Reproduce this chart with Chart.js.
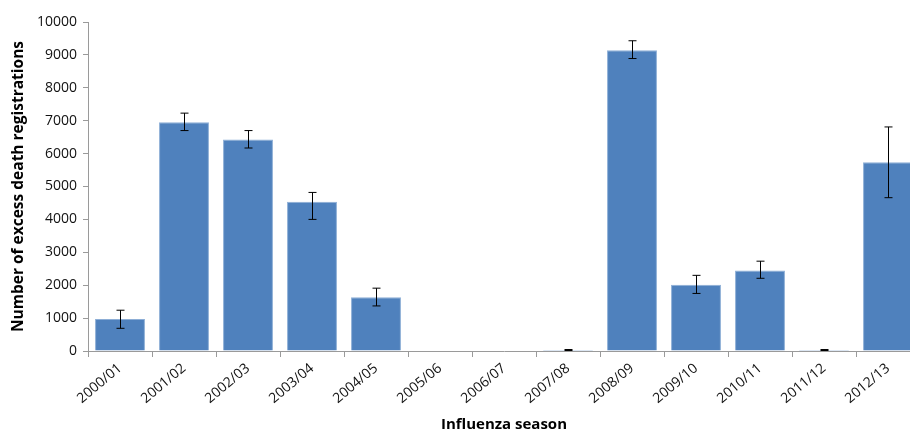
<!DOCTYPE html>
<html>
<head>
<meta charset="utf-8">
<script src="https://cdn.jsdelivr.net/npm/chart.js@4"></script>
<style>
  html, body { margin: 0; padding: 0; background: #fff; overflow: hidden; }
  #wrap { width: 920px; height: 434px; }
</style>
</head>
<body>
<div id="wrap"><canvas id="fluChart" width="920" height="434"></canvas></div>
<script>
const seasons = ["2000/01", "2001/02", "2002/03", "2003/04", "2004/05", "2005/06", "2006/07",
  "2007/08", "2008/09", "2009/10", "2010/11", "2011/12", "2012/13"];
const excessDeaths = [970, 6950, 6430, 4540, 1630, 0, 0, 30, 9140, 2010, 2450, 30, 5740];
const ciLower = [690, 6700, 6170, 4000, 1370, null, null, 15, 8890, 1750, 2210, 15, 4660];
const ciUpper = [1240, 7230, 6700, 4820, 1910, null, null, 45, 9430, 2300, 2730, 45, 6810];

// draws the error bars using the chart's own scales
const errorBars = {
  id: "errorBars",
  afterDatasetsDraw(chart) {
    const ctx = chart.ctx;
    const x = chart.scales.x;
    const y = chart.scales.y;
    ctx.save();
    ctx.strokeStyle = "#000";
    ctx.lineWidth = 1;
    seasons.forEach((s, i) => {
      if (ciLower[i] == null || ciUpper[i] == null) return;
      const px = Math.round(x.getPixelForValue(i)) + 0.5;
      const top = y.getPixelForValue(ciUpper[i]);
      const bot = y.getPixelForValue(ciLower[i]);
      ctx.beginPath();
      ctx.moveTo(px, top);
      ctx.lineTo(px, bot);
      ctx.moveTo(px - 4, top);
      ctx.lineTo(px + 4, top);
      ctx.moveTo(px - 4, bot);
      ctx.lineTo(px + 4, bot);
      ctx.stroke();
    });
    ctx.restore();
  },
};

const ctx = document.getElementById("fluChart").getContext("2d");

new Chart(ctx, {
  type: "bar",
  data: {
    labels: seasons,
    datasets: [
      {
        label: "Excess death registrations",
        data: excessDeaths,
        backgroundColor: "#4F81BD",
        borderColor: "#8DAED6",
        borderWidth: 1,
        barPercentage: 0.78,
        categoryPercentage: 1,
      },
    ],
  },
  options: {
    responsive: false,
    animation: false,
    layout: {
      padding: { top: 22, left: 9, right: 0, bottom: 0 },
    },
    plugins: {
      legend: { display: false },
      tooltip: { enabled: false },
    },
    scales: {
      x: {
        grid: {
          display: true,
          drawOnChartArea: false,
          tickLength: 6,
          color: "#9a9a9a",
        },
        border: { color: "#9a9a9a" },
        ticks: {
          color: "#111",
          font: { family: "Open Sans", size: 14 },
          minRotation: 40,
          maxRotation: 40,
          padding: 3,
        },
        title: {
          display: true,
          text: "Influenza season",
          color: "#000",
          font: { family: "Open Sans", size: 15, weight: "bold" },
          padding: { top: 0, bottom: 0 },
        },
        afterFit(scale) {
          scale.height = 83;
        },
      },
      y: {
        min: 0,
        max: 10000,
        grid: {
          display: true,
          drawOnChartArea: false,
          tickLength: 5,
          color: "#9a9a9a",
        },
        border: { color: "#9a9a9a" },
        ticks: {
          stepSize: 1000,
          color: "#111",
          font: { family: "Open Sans", size: 14 },
          padding: 6,
          callback: (v) => String(v),
        },
        title: {
          display: true,
          text: "Number of excess death registrations",
          color: "#000",
          font: { family: "Open Sans", size: 15.5, weight: "bold" },
          padding: { top: 0, bottom: 0 },
        },
        afterFit(scale) {
          scale.width = 79;
        },
      },
    },
  },
  plugins: [errorBars],
});
</script>
</body>
</html>
